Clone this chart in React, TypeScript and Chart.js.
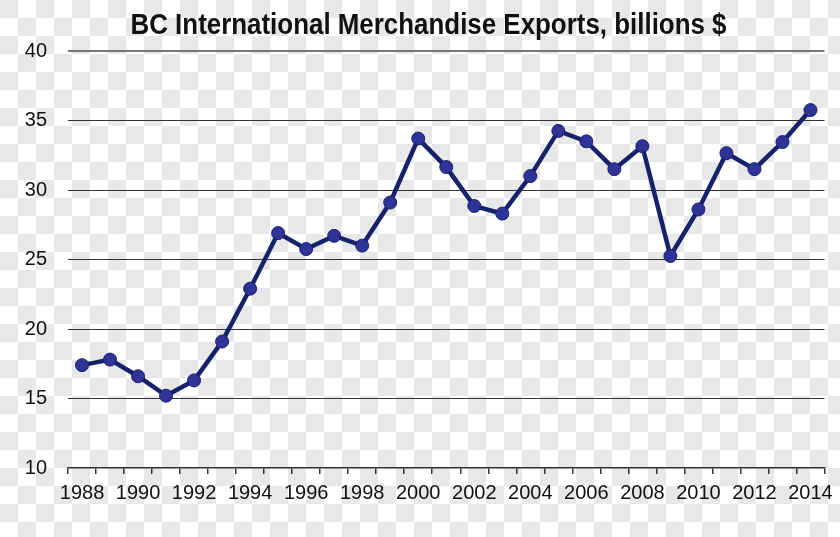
import React, { useEffect, useRef } from "react";
import { Chart, registerables } from "chart.js";

Chart.register(...registerables);

const years: string[] = [
  "1988", "1989", "1990", "1991", "1992", "1993", "1994", "1995", "1996",
  "1997", "1998", "1999", "2000", "2001", "2002", "2003", "2004", "2005",
  "2006", "2007", "2008", "2009", "2010", "2011", "2012", "2013", "2014",
];

const exportsBillions: number[] = [
  17.4, 17.8, 16.6, 15.2, 16.3, 19.1, 22.9, 26.9, 25.75,
  26.7, 26.0, 29.1, 33.7, 31.65, 28.85, 28.3, 31.0, 34.25,
  33.5, 31.5, 33.15, 25.25, 28.6, 32.65, 31.5, 33.45, 35.75,
];

const titleText = "BC International Merchandise Exports, billions $";

const FONT = "'Liberation Sans Narrow', 'Arial Narrow', 'Liberation Sans', Arial, sans-serif";

// Draws the title in a condensed form (no narrow font is installed).
const narrowTitle = {
  id: "narrowTitle",
  afterDraw(chart: any) {
    const ctx = chart.ctx as CanvasRenderingContext2D;
    ctx.save();
    ctx.font = `bold 29px ${FONT}`;
    ctx.fillStyle = "#111";
    ctx.textAlign = "left";
    ctx.textBaseline = "alphabetic";
    const w = ctx.measureText(titleText).width;
    const target = 596;
    const s = Math.min(1, target / w);
    const cx = 428.5;
    ctx.translate(cx - (w * s) / 2, 34);
    ctx.scale(s, 1);
    ctx.fillText(titleText, 0, 0);
    ctx.restore();
  },
};

export default function App() {
  const canvasRef = useRef<HTMLCanvasElement | null>(null);

  useEffect(() => {
    document.body.style.margin = "0";
    const canvas = canvasRef.current;
    if (!canvas) return;
    const chart = new Chart(canvas, {
      type: "line",
      data: {
        labels: years,
        datasets: [
          {
            data: exportsBillions,
            borderColor: "#17226b",
            borderWidth: 4.5,
            backgroundColor: "#2e3192",
            pointBackgroundColor: "#2f3396",
            pointBorderColor: "#1a1f70",
            pointBorderWidth: 1,
            pointRadius: 6.5,
            tension: 0,
            fill: false,
          },
        ],
      },
      options: {
        animation: false,
        responsive: false,
        maintainAspectRatio: false,
        layout: { padding: { left: 0, right: 14, top: 51, bottom: 0 } },
        plugins: {
          legend: { display: false },
          tooltip: { enabled: false },
          title: { display: false },
        },
        scales: {
          x: {
            type: "category",
            offset: true,
            grid: {
              display: true,
              drawOnChartArea: false,
              drawTicks: true,
              tickLength: 6,
              offset: true,
              color: "#333",
              lineWidth: 1.5,
            },
            border: { display: true, color: "#333", width: 1.5 },
            ticks: {
              autoSkip: false,
              maxRotation: 0,
              minRotation: 0,
              padding: 7,
              color: "#111",
              font: { family: FONT, size: 20 },
              callback: (_v: any, i: number) => (i % 2 === 0 ? years[i] : ""),
            },
            afterFit: (scale: any) => {
              scale.height = 69;
            },
          },
          y: {
            min: 10,
            max: 40,
            ticks: {
              stepSize: 5,
              padding: 21,
              color: "#111",
              font: { family: FONT, size: 20 },
            },
            grid: {
              drawTicks: false,
              color: (ctx: any) =>
                ctx.tick && ctx.tick.value === 40
                  ? "#777"
                  : ctx.tick && ctx.tick.value === 10
                  ? "rgba(0,0,0,0)"
                  : "#333",
              lineWidth: (ctx: any) => (ctx.tick && ctx.tick.value === 40 ? 2 : 1),
            },
            border: { display: false },
            afterFit: (scale: any) => {
              scale.width = 68;
            },
          },
        },
      },
      plugins: [narrowTitle],
    });
    return () => chart.destroy();
  }, []);

  return (
    <div
      style={{
        position: "relative",
        width: 840,
        height: 537,
        backgroundColor: "#ffffff",
        backgroundImage: "repeating-conic-gradient(#ffffff 0% 25%, #e8e8e8 0% 50%)",
        backgroundSize: "36px 36px",
      }}
    >
      <canvas ref={canvasRef} width={840} height={537} style={{ display: "block" }} />
    </div>
  );
}
